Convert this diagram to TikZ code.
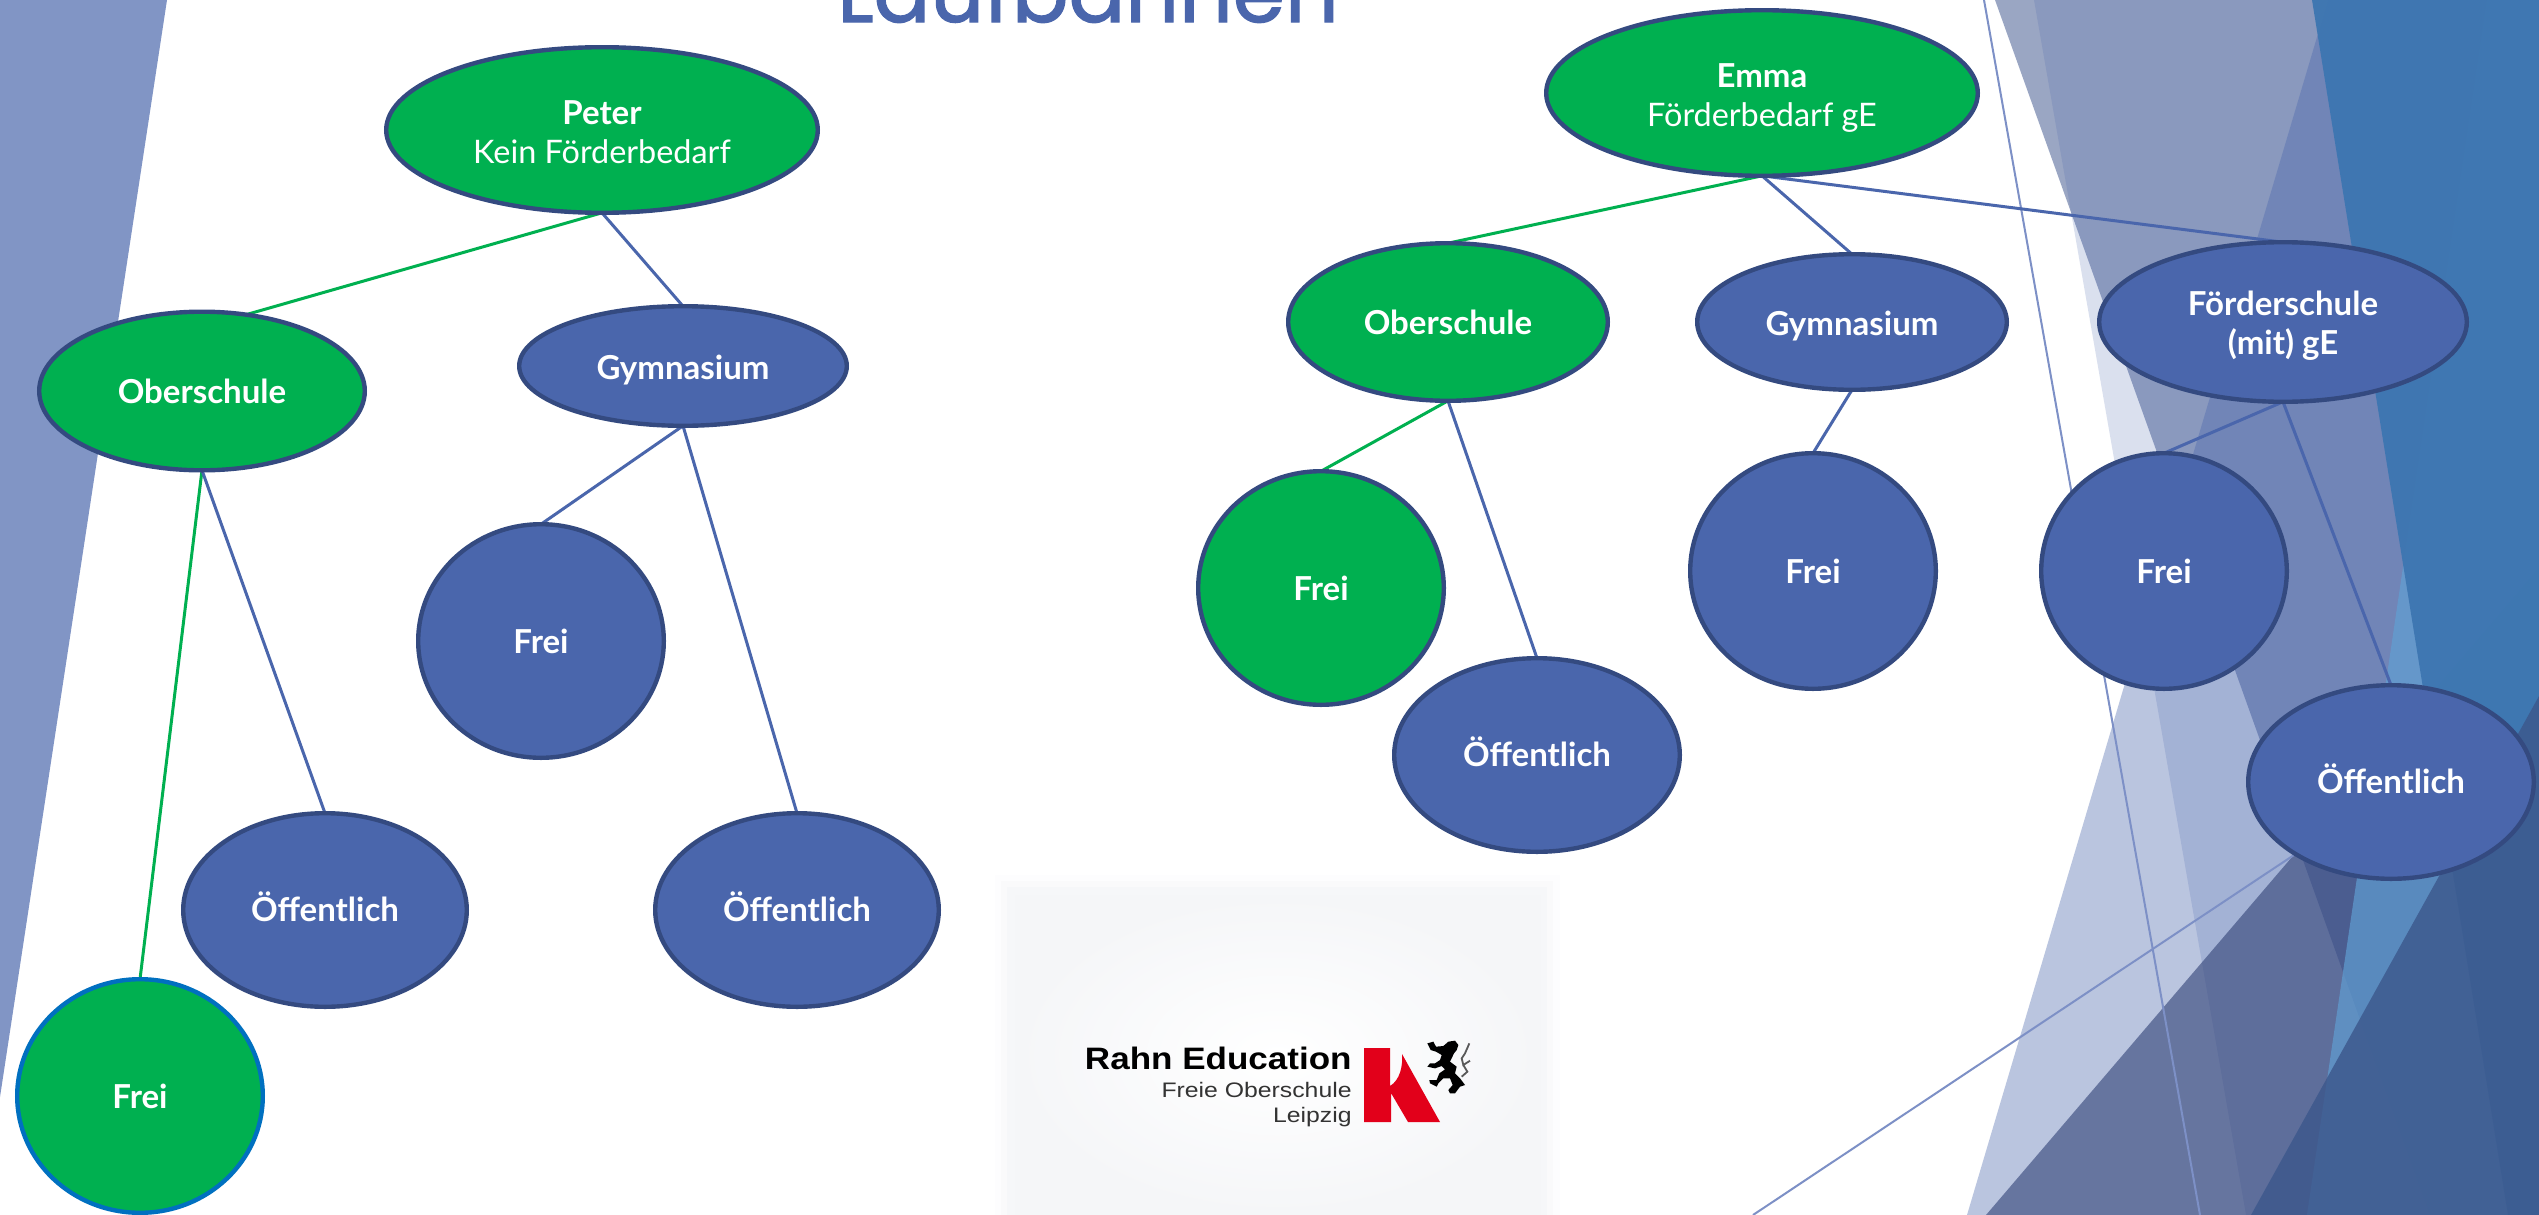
\documentclass[tikz,border=0pt]{standalone}
\usepackage{fontspec}
\usetikzlibrary{shapes.geometric}
\setmainfont{Lato}
\newfontfamily\titlefont[FakeBold=1.5]{Poppins}
\newfontfamily\logofont{Liberation Sans}
\definecolor{nodeblue}{HTML}{4A66AC}
\definecolor{nodeline}{HTML}{344A80}
\definecolor{nodegreen}{HTML}{00B050}
\definecolor{freeline}{HTML}{0070C0}
\definecolor{strayline}{HTML}{7D90C6}
\definecolor{leftfacet}{RGB}{129,149,197}
\definecolor{facetA}{RGB}{55,79,137}
\definecolor{facetB}{RGB}{52,69,121}
\definecolor{facetC}{RGB}{96,160,212}
\definecolor{facetD}{RGB}{61,118,177}
\definecolor{facetE}{RGB}{60,88,140}
\definecolor{panelA}{RGB}{253,253,254}
\definecolor{panelB}{RGB}{250,250,251}
\definecolor{panelC}{RGB}{246,247,249}
\definecolor{panelD}{RGB}{245,246,248}
\definecolor{logored}{RGB}{226,0,26}
\pgfdeclarelayer{bg}
\pgfdeclarelayer{edges}
\pgfsetlayers{bg,edges,main}
\tikzset{
  x=0.5pt,y=-0.5pt,
  school/.style={ellipse,draw=nodeline,line width=2.2pt,inner sep=0pt,outer sep=0pt,text=white,align=center,
    font=\fontsize{16.5}{19.5}\selectfont\bfseries},
  bluenode/.style={school,fill=nodeblue},
  greennode/.style={school,fill=nodegreen},
  nodesize/.style n args={2}{minimum width=#1*1pt-2.2pt,minimum height=#2*1pt-2.2pt},
  bluelink/.style={draw=nodeblue,line width=1.5pt},
  greenlink/.style={draw=nodegreen,line width=1.5pt},
  straylink/.style={draw=strayline,line width=1pt},
  facet/.style n args={2}{fill=#1,fill opacity=#2,draw=none},
}
\newcommand{\lightline}[1]{{\fontsize{16.2}{19.5}\selectfont\mdseries\strut #1}}
\newcommand{\oefftext}{\rule[-3.5pt]{0pt}{3.5pt}Öffentlich}
\newcommand{\gymtext}{\rule{0pt}{16pt}Gymnasium}
\begin{document}
\begin{tikzpicture}
\useasboundingbox (0,0) rectangle (2539,1215);
\begin{pgfonlayer}{bg}
\fill[white] (0,0) rectangle (2539,1215);
\fill[leftfacet] (0,0) -- (167,0) -- (0,1097) -- cycle;
\path[facet={facetA}{0.5}] (1995,0) -- (2539,0) -- (2539,1215) -- (2430,1215) -- cycle;
\path[facet={nodeblue}{0.2}] (2034,0) -- (2539,0) -- (2539,1215) -- (2246,1215) -- cycle;
\path[facet={nodeblue}{0.375}] (2328,0) -- (2539,0) -- (2539,1215) -- (1967,1215) -- cycle;
\path[facet={facetB}{0.62}] (1986,1215) -- (2539,568) -- (2539,1215) -- cycle;
\path[facet={facetC}{0.68}] (2487,0) -- (2539,0) -- (2539,1215) -- (2307,1215) -- cycle;
\path[facet={facetD}{0.95}] (2312,0) -- (2539,0) -- (2539,1215) -- (2508,1215) -- cycle;
\path[facet={facetE}{0.82}] (2251,1215) -- (2539,696) -- (2539,1215) -- cycle;
% logo panel
\fill[panelA] (995,875) rectangle (1560,1215);
\fill[panelB] (1001,881) rectangle (1553,1215);
\fill[panelC] (1007,887) rectangle (1547,1215);
\shade[inner color=white,outer color=panelD] (1015,895) rectangle (1540,1215);
\end{pgfonlayer}

% title, cut by the top edge
\begin{scope}
\clip (0,0) rectangle (2539,1215);
\node[anchor=base,text=nodeblue,inner sep=0pt,font=\fontsize{42}{42}\titlefont] (title) at (1088,22) {Laufbahnen};
\end{scope}

% nodes
\node[greennode,nodesize={218}{85}] (peter) at (602,130) {\rule{0pt}{20pt}Peter\\\lightline{Kein Förderbedarf}};
\node[greennode,nodesize={218}{85}] (emma) at (1762,93) {\rule{0pt}{20pt}Emma\\\lightline{Förderbedarf gE}};
\node[greennode,nodesize={165}{81.5}] (oberL) at (202,391) {Oberschule};
\node[bluenode,nodesize={166}{62}] (gymL) at (683,366) {\gymtext};
\node[bluenode,nodesize={125}{119}] (freiL) at (541,641) {Frei};
\node[bluenode,nodesize={144}{99}] (oeffLa) at (325,910) {\oefftext};
\node[bluenode,nodesize={144}{99}] (oeffLb) at (797,910) {\oefftext};
\node[greennode,draw=freeline,nodesize={125}{119}] (freiG) at (140,1096) {Frei};
\node[greennode,nodesize={162}{81}] (oberR) at (1448,322) {Oberschule};
\node[bluenode,nodesize={157}{70}] (gymR) at (1852,322) {\gymtext};
\node[bluenode,nodesize={186}{82}] (foerd) at (2283,322) {\rule{0pt}{16pt}Förderschule\\(mit) gE};
\node[greennode,nodesize={125}{119}] (freiRa) at (1321,588) {Frei};
\node[bluenode,nodesize={125}{120}] (freiRb) at (1813,571) {Frei};
\node[bluenode,nodesize={125}{120}] (freiRc) at (2164,571) {Frei};
\node[bluenode,nodesize={145}{99}] (oeffRa) at (1537,755) {\oefftext};
\node[bluenode,nodesize={145}{99}] (oeffRb) at (2391,782) {\oefftext};

\coordinate (strayTop) at (1984,0);
\coordinate (strayBot) at (2200,1215);
\coordinate (strayEnd) at (1753,1215);

\begin{pgfonlayer}{edges}
\draw[straylink] (strayTop) -- (strayBot);
\draw[straylink] (oeffRb.217) -- (strayEnd);
\draw[greenlink] (peter.south) -- (oberL.60);
\draw[bluelink] (peter.south) -- (gymL.north);
\draw[greenlink] (oberL.south) -- (freiG.north);
\draw[bluelink] (oberL.south) -- (oeffLa.north);
\draw[bluelink] (gymL.south) -- (freiL.north);
\draw[bluelink] (gymL.south) -- (oeffLb.north);
\draw[greenlink] (emma.south) -- (oberR.north);
\draw[bluelink] (emma.south) -- (gymR.north);
\draw[bluelink] (emma.south) -- (foerd.north);
\draw[greenlink] (oberR.south) -- (freiRa.north);
\draw[bluelink] (oberR.south) -- (oeffRa.north);
\draw[bluelink] (gymR.south) -- (freiRb.north);
\draw[bluelink] (foerd.south) -- (freiRc.north);
\draw[bluelink] (foerd.south) -- (oeffRb.north);
\end{pgfonlayer}

% logo
\node[anchor=base east,inner sep=0pt,font=\fontsize{15.5}{18}\logofont\bfseries,text=black] (rahn) at (1352,1069) {\scalebox{1.13}[1]{Rahn Education}};
\node[anchor=base east,inner sep=0pt,font=\fontsize{10.5}{13}\logofont,text=black!80] (freie) at (1352,1097) {\scalebox{1.18}[1]{Freie Oberschule}};
\node[anchor=base east,inner sep=0pt,font=\fontsize{10.5}{13}\logofont,text=black!80] (leip) at (1352,1122) {\scalebox{1.18}[1]{Leipzig}};
\fill[logored] (1364,1048) -- (1390,1048) -- (1390,1086) .. controls (1400,1080) and (1403,1066) .. (1402,1054) -- (1440,1122) -- (1408,1122) -- (1391,1093) -- (1391,1122) -- (1364,1122) -- cycle;
\begin{scope}[shift={(1410,1030)},x=0.1667pt,y=-0.1667pt]
\fill[black] (52,40) -- (70,35) -- (78,50) -- (100,48) -- (115,35) -- (135,32) -- (145,45) -- (140,60) -- (132,70) -- (120,95) -- (140,110) -- (135,130) -- (150,145) -- (165,165) -- (150,170) -- (135,190) -- (120,190) -- (115,180) -- (128,165) -- (120,145) -- (100,145) -- (85,160) -- (80,170) -- (60,160) -- (58,150) -- (80,150) -- (88,130) -- (105,118) -- (95,108) -- (75,115) -- (52,110) -- (60,100) -- (75,100) -- (90,90) -- (95,75) -- (78,65) -- (62,60) -- cycle;
\draw[black!65,line width=0.9pt] (178,40) -- (165,70) -- (155,85) -- (160,105) -- (180,92);
\draw[black!65,line width=0.9pt] (160,105) -- (172,125) -- (155,140);
\end{scope}
\end{tikzpicture}
\end{document}
